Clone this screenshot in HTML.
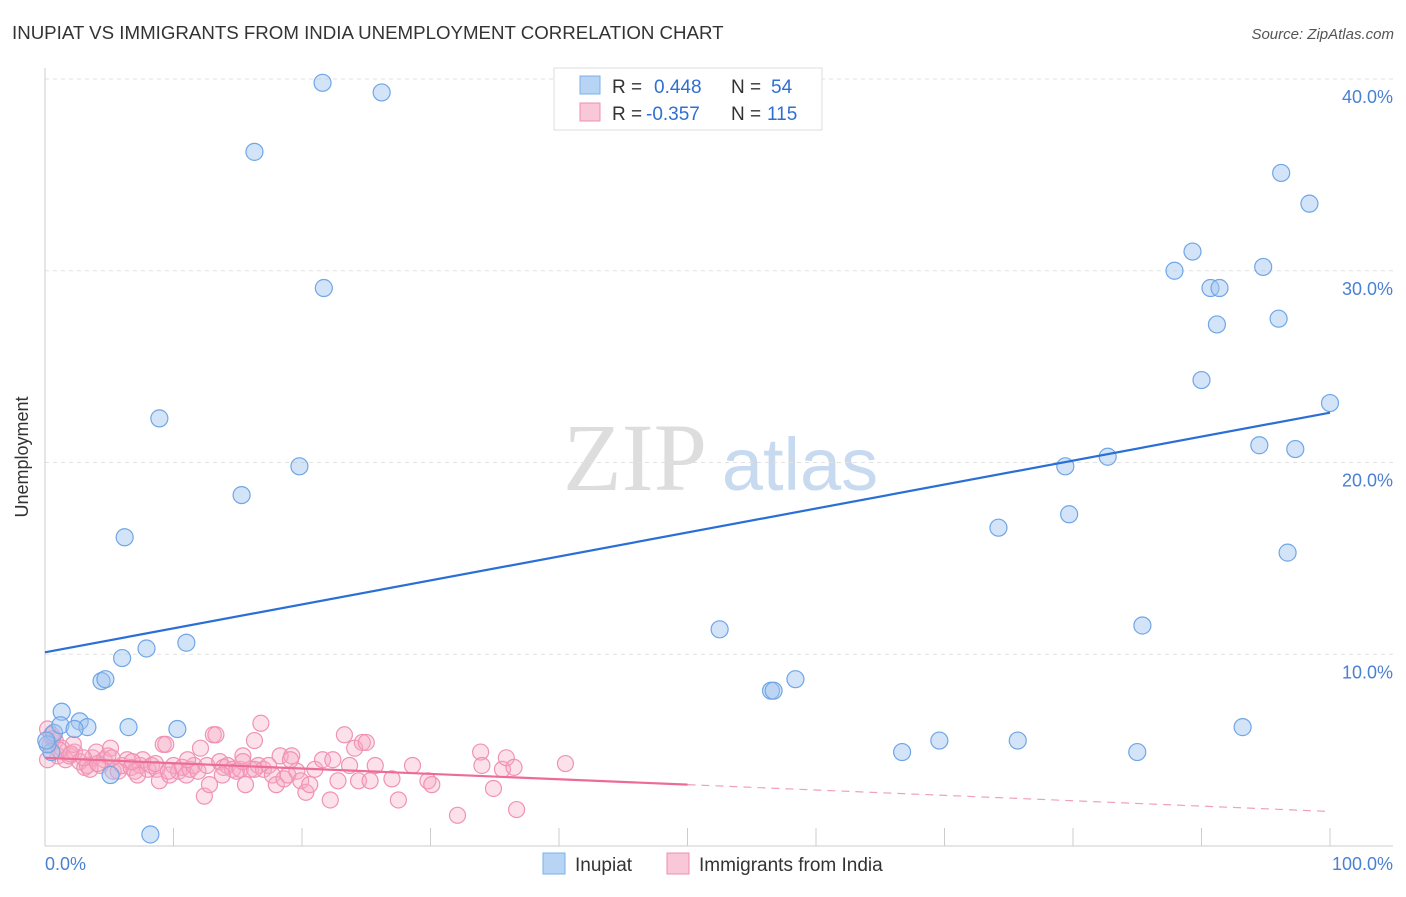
<!DOCTYPE html>
<html><head><meta charset="utf-8"><style>
body{margin:0;background:#fff;font-family:"Liberation Sans",sans-serif;}
svg text{font-family:"Liberation Sans",sans-serif;}
</style></head><body>
<svg id="chart" width="1406" height="892">
<text x="12" y="39" font-size="18.7" fill="#333">INUPIAT VS IMMIGRANTS FROM INDIA UNEMPLOYMENT CORRELATION CHART</text>
<text x="1394" y="39" font-size="15" fill="#555" text-anchor="end" font-style="italic">Source: ZipAtlas.com</text>
<g>
<text x="635" y="490" font-size="96" fill="#ddd" text-anchor="middle" font-family="Liberation Serif" style="font-family:'Liberation Serif',serif">ZIP</text>
<text x="800" y="490" font-size="74" fill="#c8daf0" text-anchor="middle">atlas</text>
</g>
<g id="grid"></g>
<g id="axes"></g>
<g id="pinkPts"></g>
<g id="bluePts"></g>
<g id="lines"></g>
<text x="28" y="457" font-size="18" fill="#333" text-anchor="middle" transform="rotate(-90 28 457)">Unemployment</text>
<g>
<rect x="554" y="68" width="268" height="62" fill="#fff" stroke="#ddd"/>
<rect x="580" y="76" width="20" height="18" fill="#b8d4f4" stroke="#7ab0e8"/>
<rect x="580" y="103" width="20" height="18" fill="#f9c8d8" stroke="#f08cb0"/>
<text x="612" y="93" font-size="19" fill="#333">R = <tspan fill="#2f6fd0" x="654">0.448</tspan><tspan x="731" fill="#333">N =</tspan><tspan x="771" fill="#2f6fd0">54</tspan></text>
<text x="612" y="120" font-size="19" fill="#333">R = <tspan fill="#2f6fd0" x="646">-0.357</tspan><tspan x="731" fill="#333">N =</tspan><tspan x="767" fill="#2f6fd0">115</tspan></text>
</g>
<g>
<rect x="543" y="853" width="22" height="21" fill="#b8d4f4" stroke="#7ab0e8"/>
<text x="575" y="871" font-size="19" fill="#333">Inupiat</text>
<rect x="667" y="853" width="22" height="21" fill="#f9c8d8" stroke="#f08cb0"/>
<text x="699" y="871" font-size="19" fill="#333">Immigrants from India</text>
</g>
</svg>
<script>
const blueX=[21.6,26.2,16.3,21.7,8.9,19.8,15.3,6.2,11.0,7.9,6.0,4.4,4.7,1.3,2.7,3.3,6.5,10.3,5.1,8.2,0.7,0.5,52.5,56.5,56.7,58.4,66.7,69.6,75.7,85.0,93.2,79.4,82.7,79.7,74.2,85.4,96.7,87.9,89.3,91.2,90.7,91.4,94.8,96.2,98.4,96.0,90.0,100,94.5,97.3,1.2,0.2,2.3,0.1];
const blueY=[39.8,39.3,36.2,29.1,22.3,19.8,18.3,16.1,10.6,10.3,9.8,8.6,8.7,7.0,6.5,6.2,6.2,6.1,3.7,0.6,5.9,4.9,11.3,8.1,8.1,8.7,4.9,5.5,5.5,4.9,6.2,19.8,20.3,17.3,16.6,11.5,15.3,30.0,31.0,27.2,29.1,29.1,30.2,35.1,33.5,27.5,24.3,23.1,20.9,20.7,6.3,5.3,6.1,5.5];
const pinkX=[0.2,0.4,0.8,1.0,1.3,1.6,1.9,2.3,2.7,3.1,3.3,3.7,4.0,4.3,4.6,4.9,5.1,5.3,5.7,6.0,6.4,6.7,7.0,7.4,7.6,8.0,8.3,8.7,8.9,9.2,9.4,9.7,10.0,10.4,10.7,11.0,11.3,11.6,11.9,12.1,12.4,12.6,12.8,13.1,13.3,13.6,13.9,14.2,14.6,14.9,15.2,15.4,15.6,16.0,16.3,16.6,16.8,17.0,17.4,17.7,18.0,18.3,18.6,18.9,19.2,19.6,19.9,20.3,20.6,21.0,21.6,22.2,22.4,22.8,23.3,23.7,24.1,24.4,24.7,25.0,25.3,25.7,27.0,27.5,28.6,29.8,30.1,32.1,33.9,34.0,34.9,35.6,35.9,36.5,36.7,40.5,5.2,7.2,8.6,9.6,11.1,13.8,16.3,19.1,15.4,2.2,3.5,0.5,0.2,0.6,1.1,2.0,3.0,4.1,6.8];
const pinkY=[6.1,5.3,5.5,4.7,5.1,4.5,4.7,4.9,4.4,4.1,4.2,4.6,4.9,4.2,4.5,4.7,5.1,3.9,3.9,4.2,4.5,4.1,3.9,4.2,4.5,4.0,4.2,4.0,3.4,5.3,5.3,3.7,4.2,3.9,4.1,3.7,4.0,4.2,3.9,5.1,2.6,4.2,3.2,5.8,5.8,4.4,4.1,4.2,4.0,3.9,4.0,4.7,3.2,4.0,5.5,4.2,6.4,4.0,4.2,3.7,3.2,4.7,3.5,3.7,4.7,3.9,3.4,2.8,3.2,4.0,4.5,2.4,4.5,3.4,5.8,4.2,5.1,3.4,5.4,5.4,3.4,4.2,3.5,2.4,4.2,3.4,3.2,1.6,4.9,4.2,3.0,4.0,4.6,4.1,1.9,4.3,4.6,3.7,4.3,3.9,4.5,3.7,4.0,4.5,4.4,5.3,4.0,5.8,4.5,5.6,5.0,4.8,4.6,4.3,4.4];
const yTicks=[10,20,30,40];
const yTickLabels=["10.0%","20.0%","30.0%","40.0%"];
const xTicks=[0,10,20,30,40,50,60,70,80,90,100];
const blueTrend=[10.1,22.6];
const pinkTrend=[4.6,1.8];
const pinkSolidEnd=50;
const X0=45,X1=1330,Y0=846,Y40=79;
const sx=v=>X0+(X1-X0)*v/100;
const sy=v=>Y0-(Y0-Y40)*v/40;
const NS="http://www.w3.org/2000/svg";
function mk(tag,attrs,parent){const e=document.createElementNS(NS,tag);for(const k in attrs)e.setAttribute(k,attrs[k]);document.getElementById(parent).appendChild(e);return e;}
yTicks.forEach((t,i)=>{
 const g=mk('line',{x1:X0,x2:1393,y1:sy(t),y2:sy(t),stroke:'#e2e2e2','stroke-dasharray':'4,4'},'grid');
 
 
 const l=mk('text',{x:1393,y:sy(t)+24,'font-size':18,fill:'#4a80d4','text-anchor':'end'},'axes');
 l.textContent=yTickLabels[i];
 
 
});
const topGrid=mk('line',{x1:X0,x2:1393,y1:79,y2:79,stroke:'#e2e2e2','stroke-dasharray':'4,4'},'grid');


const ya=mk('line',{x1:X0,x2:X0,y1:68,y2:Y0,stroke:'#ccc'},'axes');


const xa=mk('line',{x1:X0,x2:1393,y1:Y0,y2:Y0,stroke:'#ccc'},'axes');


xTicks.forEach(t=>{const e=mk('line',{x1:sx(t),x2:sx(t),y1:828,y2:Y0,stroke:'#ccc'},'axes');
 
 });
const xl0=mk('text',{x:45,y:870,'font-size':18,fill:'#4a80d4'},'axes');xl0.textContent='0.0%';


const xl1=mk('text',{x:1393,y:870,'font-size':18,fill:'#4a80d4','text-anchor':'end'},'axes');xl1.textContent='100.0%';


pinkX.forEach((v,i)=>{const c=mk('circle',{cx:sx(v),cy:sy(pinkY[i]),r:8,fill:'rgba(246,170,196,0.35)',stroke:'#f092b4','stroke-width':1.2},'pinkPts');
 
 });
blueX.forEach((v,i)=>{const c=mk('circle',{cx:sx(v),cy:sy(blueY[i]),r:8.5,fill:'rgba(160,196,240,0.45)',stroke:'#6fa6e6','stroke-width':1.2},'bluePts');
 
 });
const bl=mk('line',{x1:sx(0),y1:sy(blueTrend[0]),x2:sx(100),y2:sy(blueTrend[1]),stroke:'#2a6fd6','stroke-width':2.2},'lines');


const pm=pinkTrend[0]+(pinkTrend[1]-pinkTrend[0])*pinkSolidEnd/100;
const pl=mk('line',{x1:sx(0),y1:sy(pinkTrend[0]),x2:sx(pinkSolidEnd),y2:sy(pm),stroke:'#ec6c96','stroke-width':2.2},'lines');


const pd=mk('line',{x1:sx(pinkSolidEnd),y1:sy(pm),x2:sx(100),y2:sy(pinkTrend[1]),stroke:'#f0a0bb','stroke-width':1.2,'stroke-dasharray':'8,6'},'lines');


</script>
</body></html>
